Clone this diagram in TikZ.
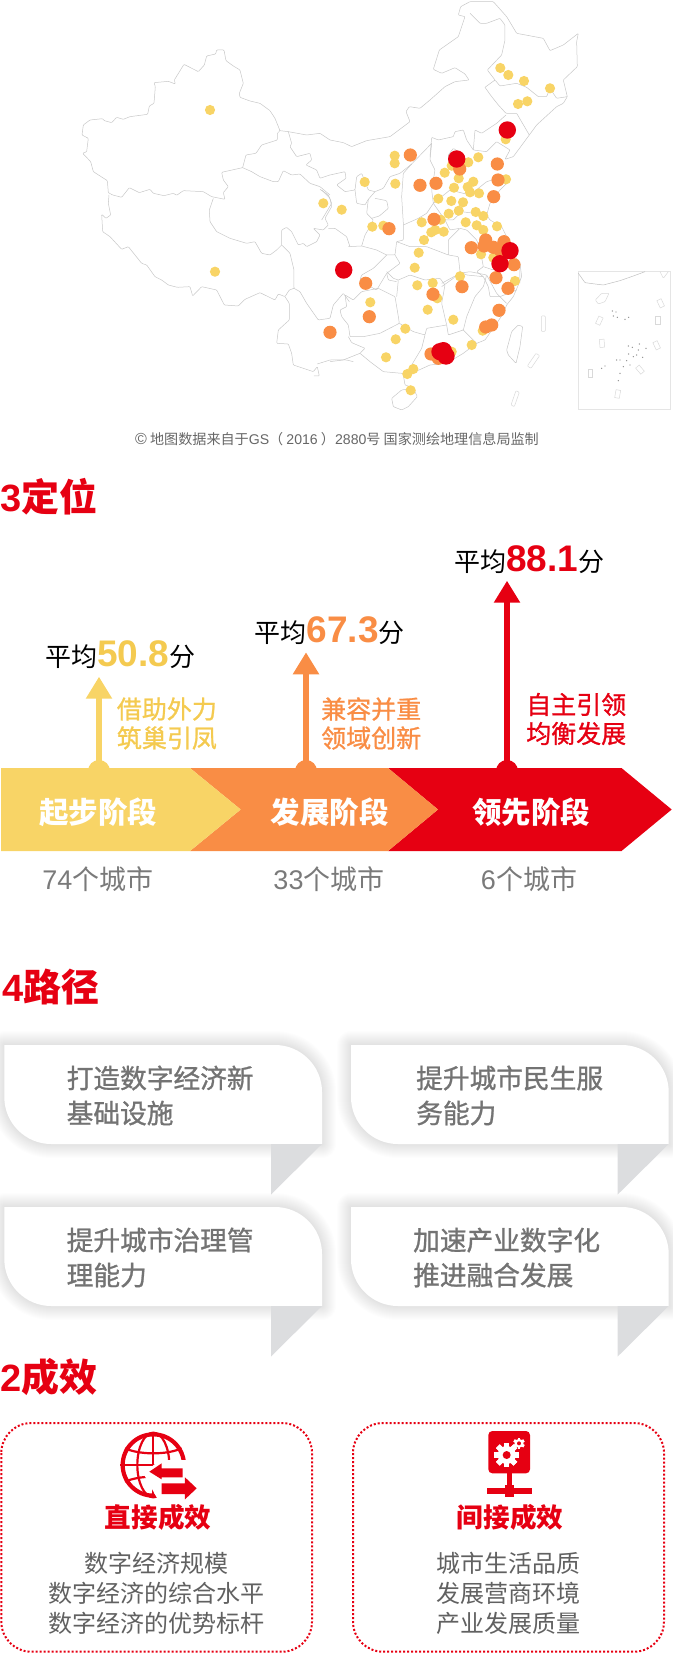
\documentclass[tikz,border=0pt]{standalone}
\usepackage{fontspec}
\setmainfont{Noto Sans CJK SC}
\newfontfamily\ltn{Liberation Sans}
\newfontfamily\medium[FakeBold=1]{Noto Sans CJK SC}
\newfontfamily\heavy{Noto Sans CJK SC Black}
\usetikzlibrary{arrows.meta, positioning}
\definecolor{stageyellow}{HTML}{F8D466}
\definecolor{textyellow}{HTML}{F4CA50}
\definecolor{stageorange}{HTML}{F98D45}
\definecolor{stagered}{HTML}{E60012}
\definecolor{foldgrey}{HTML}{DCDDDF}
\newcommand{\fs}[2]{\fontsize{#1}{#2}\selectfont}
\begin{document}
\begin{tikzpicture}[x=1pt,y=-1pt]

\tikzset{border/.style = {draw=black!22, line width=.5pt, line join=round, rounded corners=.8pt}}
\tikzset{heading/.style = {anchor=west, inner sep=0, text=stagered, font=\fs{38}{40}\heavy}}
\tikzset{score/.style = {anchor=west, inner sep=0, font=\fs{26}{30}}}
\tikzset{slogan/.style = {anchor=west, inner sep=0, align=left, font=\fs{25}{29}\medium}}
\tikzset{stagelabel/.style = {inner sep=0, text=white, font=\fs{29.5}{34}\bfseries}}
\tikzset{citycount/.style = {inner sep=0, text=black!52, font=\fs{27}{30}}}
\tikzset{pathtext/.style = {anchor=west, inner sep=0, align=left, text=black!55, font=\fs{26.7}{35}\medium}}
\tikzset{resulttitle/.style = {inner sep=0, text=stagered, font=\fs{26.6}{30}\bfseries}}
\tikzset{resultbody/.style = {inner sep=0, align=center, text=black!62, font=\fs{24}{30}}}
\tikzset{resultbox/.style = {draw=stagered, line width=2pt, dash pattern=on 2pt off 2pt, rounded corners=30pt}}
\tikzset{stagearrow/.style = {line width=5.5pt, -{Triangle[length=22pt,width=25pt]}}}

\useasboundingbox (0,0) rectangle (672,1653);

% map, west
\begin{scope}[shift={(70,40)},x=.3333pt,y=-.3333pt]
\draw[border] (630,272) -- (615,235) -- (600,212) -- (570,190) -- (540,183) -- (510,172) -- (508,160) -- (520,130) -- (510,90) -- (490,78) -- (468,62) -- (462,30) -- (440,30) -- (437,42) -- (410,48) -- (403,75) -- (385,95) -- (342,73) -- (313,120) -- (316,132) -- (295,124) -- (252,128) -- (256,140) -- (252,190) -- (238,198) -- (233,223) -- (180,230) -- (160,238) -- (140,232) -- (125,248) -- (103,242) -- (98,236) -- (60,240) -- (40,255) -- (36,285) -- (55,295) -- (50,335) -- (38,340) -- (62,365) -- (70,395) -- (112,422) -- (115,458) -- (128,465) -- (155,472) -- (178,443) -- (208,458) -- (240,448) -- (250,460) -- (282,467) -- (310,460) -- (320,466) -- (340,452) -- (400,455) -- (425,470) -- (465,478) -- (460,458) -- (475,440) -- (460,420) -- (455,397) -- (518,383) -- (528,345) -- (558,340) -- (575,315) -- (622,300) -- (622,280) -- cycle;
\draw[border] (518,383) -- (545,395) -- (570,410) -- (610,425) -- (625,425) -- (640,392) -- (665,405) -- (690,402) -- (720,430) -- (750,440) -- (780,465);
\draw[border] (630,272) -- (655,275) -- (710,285) -- (750,280) -- (780,300);
\draw[border] (655,275) -- (665,310) -- (660,320) -- (680,350) -- (720,340) -- (725,360) -- (708,375) -- (740,390) -- (750,415) -- (780,405);
\end{scope}
% map, tibet and yunnan
\begin{scope}[shift={(90,190)},x=.3333pt,y=-.3333pt]
\draw[border] (57,15) -- (55,40) -- (62,75) -- (48,85) -- (35,73) -- (38,125) -- (60,140) -- (95,178) -- (115,170) -- (155,220) -- (170,225) -- (195,260) -- (215,270) -- (235,285) -- (262,292) -- (300,290) -- (308,318) -- (335,290) -- (380,300) -- (403,345) -- (445,348) -- (465,328) -- (510,308) -- (555,330) -- (565,312) -- (585,320) -- (598,300) -- (612,295);
\draw[border] (370,25) -- (358,60) -- (360,95) -- (380,125) -- (420,145) -- (470,160) -- (495,155) -- (515,190) -- (540,195) -- (560,180) -- (575,165) -- (600,190) -- (612,240) -- (612,295) -- (630,305) -- (650,340) -- (685,390) -- (720,385) -- (730,345) -- (760,310) -- (778,335);
\draw[border] (695,0) -- (720,25) -- (725,50) -- (705,85) -- (715,105) -- (700,120) -- (670,115) -- (690,135) -- (680,155) -- (650,170) -- (640,160) -- (625,165) -- (605,125) -- (590,112) -- (575,120) -- (575,165);
\draw[border] (715,115) -- (735,115) -- (770,140) -- (780,170);
\draw[border] (585,320) -- (598,340) -- (598,390) -- (565,420) -- (560,460) -- (595,462) -- (605,490) -- (610,525) -- (640,535) -- (670,545) -- (682,530) -- (688,558) -- (672,558);
\draw[border] (682,522) -- (720,510) -- (770,510) -- (790,515);
\end{scope}
% map, north east
\begin{scope}[shift={(330,0)},x=.3333pt,y=-.3333pt]
\draw[border] (0,420) -- (40,428) -- (65,440) -- (110,422) -- (180,410) -- (240,365) -- (228,335) -- (238,320) -- (270,325) -- (300,300) -- (345,260) -- (375,245) -- (417,240) -- (405,222) -- (375,203) -- (335,220) -- (310,208) -- (328,150) -- (385,110) -- (405,50) -- (385,45) -- (392,20) -- (420,5) -- (490,5) -- (530,50) -- (560,100) -- (640,115) -- (660,152) -- (700,135) -- (745,100) -- (740,125) -- (742,200) -- (700,240) -- (712,290) -- (700,310) -- (680,320) -- (620,375) -- (598,405) -- (550,470) -- (525,478) -- (540,450) -- (500,425) -- (470,455) -- (430,450) -- (435,390) -- (455,400) -- (500,370) -- (528,345);
\draw[border] (420,40) -- (450,70) -- (470,70) -- (510,55) -- (525,75) -- (525,120) -- (515,165) -- (472,210) -- (495,240);
\draw[border] (465,262) -- (495,240) -- (510,258) -- (560,250) -- (590,262) -- (625,290) -- (650,290) -- (660,265) -- (680,295) -- (712,290);
\draw[border] (465,262) -- (485,290) -- (505,315) -- (528,340) -- (560,340) -- (598,405);
\draw[border] (300,470) -- (305,412) -- (325,420) -- (370,410) -- (375,395) -- (400,390) -- (410,420) -- (430,450);
\draw[border] (355,465) -- (370,445) -- (400,465) -- (410,500) -- (380,520) -- (355,490) -- cycle;
\end{scope}
% map, centre
\begin{scope}[shift={(320,140)},x=.3333pt,y=-.3333pt]
\draw[border] (335,10) -- (275,72) -- (240,100) -- (210,110) -- (190,145) -- (165,155) -- (145,150) -- (125,100) -- (110,110) -- (105,150) -- (75,155) -- (50,135) -- (78,115) -- (75,95) -- (30,105);
\draw[border] (105,150) -- (110,190) -- (135,195) -- (145,178);
\draw[border] (165,155) -- (145,178) -- (140,220) -- (160,240) -- (150,260) -- (135,285) -- (125,318);
\draw[border] (165,175) -- (200,182) -- (205,205) -- (178,228) -- (155,235);
\draw[border] (125,318) -- (170,330) -- (200,345) -- (225,345) -- (230,305) -- (250,300) -- (250,250) -- (245,170) -- (250,100) -- (275,72);
\draw[border] (250,255) -- (295,235) -- (320,220) -- (340,190);
\draw[border] (335,10) -- (330,60) -- (345,90) -- (335,150) -- (340,190) -- (390,150) -- (450,165) -- (500,125) -- (565,105) -- (565,125) -- (540,150) -- (510,190) -- (500,225) -- (510,240) -- (545,260) -- (560,290) -- (600,380) -- (600,430);
\draw[border] (340,190) -- (375,240) -- (400,240) -- (425,215) -- (500,225);
\draw[border] (375,240) -- (390,270) -- (420,265) -- (385,300) -- (385,345) -- (415,350) -- (420,395) -- (440,405) -- (490,410);
\draw[border] (420,265) -- (440,270) -- (470,300) -- (480,325) -- (510,320) -- (560,290);
\draw[border] (480,325) -- (490,380) -- (470,395) -- (490,410) -- (505,440) -- (510,470) -- (540,470) -- (590,450);
\draw[border] (490,380) -- (520,390) -- (530,350);
\draw[border] (230,305) -- (270,320) -- (320,320) -- (385,345);
\draw[border] (225,345) -- (240,370) -- (200,400) -- (205,420) -- (230,425);
\draw[border] (200,345) -- (160,385) -- (125,405) -- (120,420) -- (160,445) -- (170,450) -- (200,400);
\draw[border] (0,148) -- (25,165) -- (35,190) -- (5,240);
\draw[border] (85,320) -- (125,318);
\draw[border] (420,395) -- (400,415) -- (365,440);
\end{scope}
% map, south
\begin{scope}[shift={(330,190)},x=.3333pt,y=-.3333pt]
\draw[border] (570,220) -- (575,260) -- (565,285) -- (550,320) -- (530,345) -- (520,370) -- (500,400) -- (465,450) -- (440,460) -- (400,490) -- (350,520) -- (300,525) -- (245,550) -- (215,550) -- (160,545) -- (120,515) -- (90,490) -- (105,475) -- (65,458) -- (55,440);
\draw[border] (30,360) -- (50,350) -- (45,315) -- (70,330) -- (95,305) -- (145,295) -- (195,320) -- (205,380) -- (208,400) -- (150,430) -- (100,440) -- (60,440) -- (55,405) -- (35,380) -- cycle;
\draw[border] (205,270) -- (240,255) -- (285,270) -- (330,265) -- (345,285) -- (335,340) -- (350,405) -- (290,415) -- (285,435) -- (250,425) -- (208,400);
\draw[border] (335,280) -- (390,250) -- (420,245) -- (470,255) -- (460,290) -- (435,320) -- (410,380) -- (400,420) -- (355,435) -- (350,405);
\draw[border] (470,255) -- (500,310) -- (530,340);
\draw[border] (400,420) -- (440,460);
\draw[border] (170,245) -- (190,265) -- (205,270) -- (200,320);
\draw[border] (285,435) -- (275,475) -- (245,525) -- (245,550);
\draw[border] (0,515) -- (40,510) -- (90,490);
\draw[border] (220,555) -- (225,585) -- (240,590);
% islands
\draw[border] (185,625) -- (215,600) -- (250,595) -- (262,620) -- (235,650) -- (215,660) -- (190,650) -- cycle;
\draw[border] (530,480) -- (545,425) -- (565,405) -- (578,410) -- (570,470) -- (558,520) -- (535,495) -- cycle;
\draw[border, black!15] (634,378) rectangle (646,424);
\draw[border, black!15] (592,528) -- (618,490) -- (629,497) -- (603,535) -- cycle;
\draw[border, black!15] (543,645) -- (558,602) -- (568,607) -- (553,650) -- cycle;
\end{scope}
% inset
\begin{scope}[shift={(570,260)},x=.3333pt,y=-.3333pt]
\draw[black!10, line width=.5pt] (25,35) rectangle (300,448);
\draw[border, black!25] (25,40) -- (45,68) -- (75,72) -- (100,75) -- (150,62) -- (190,48) -- (225,35);
\draw[border, black!15] (270,35) -- (280,55) -- (295,35);
\draw[border, black!15] (76,120) -- (95,100) -- (117,100) -- (105,125) -- (85,132) -- cycle;
\foreach \x/\y/\a in {272/130/25,88/182/-25,263/181/0,96/250/5,260/256/25,61/340/0,210/329/40,143/402/-10}
  \draw[black!15, line width=.5pt, rotate around={\a:(\x,\y)}] (\x-7,\y-12) rectangle (\x+7,\y+12);
\foreach \x/\y in {127/153,138/156,130/168,142/172,165/178,176/172,175/258,187/262,208/252,228/265,176/282,200/285,218/292,150/300,170/302,140/300,105/318,95/325,160/320,150/340,145/362,180/315,205/270,190/290}
  \fill[black!45] (\x,\y) circle (.7pt);
\end{scope}
% cities
\foreach \x/\y in {500.3/68,508.3/75,524/81,550/88.3,527.3/101.3,518/104,505.7/139.3,478.3/157.3,468.3/162.3,394.7/155.7,394.7/163.3,364.7/182,395.3/183.7,444.7/172.7,458.7/178.3,454/187.7,473.3/181.7,467.7/187,470/192.3,479/193.3,506/179.3,451.7/165.7,438.3/198.7,451.3/201,463/202.3,448.7/213.7,458.7/210.7,475.7/212,483.3/216,465.7/222.3,476.7/225.3,483.3/230,497/226.3,440.7/219.7,421.7/222.3,431.3/232.3,435.3/230,443.7/231.7,424/240,418.7/252.7,414.7/267.7,417.3/285.3,432.7/283,460/276.3,437.3/298.3,427.7/309.7,453.3/319.7,405.3/328.7,395.7/339.3,386/357.3,413.3/369,407.3/374,410.7/390.3,471.7/345,482.7/330.7,515/281,481/254.3,493.3/257.7,451.7/351.7,372.3/226.7,383.3/225.7,341.7/209.7,323.3/203.3,215/271.7,210/110,370.3/302.3}
  \fill[stageyellow] (\x,\y) circle (5.1pt);
\foreach \x/\y in {410.3/155,420/185.3,436/183.3,459.7/169,497.3/164,498/180,493.7/196.7,434/219.3,389/228.7,471.3/247.7,485.7/240,484/246,493.3/247.3,500/250,504/241.7,514/264.7,496/277.7,462/286.7,508/288.3,433/294.3,365.7/283.3,369.3/316.7,499/310.3,491.7/325,485.7/327,431/354,438.3/358.3,330/332.3}
  \fill[stageorange] (\x,\y) circle (6.6pt);
\foreach \x/\y in {507.3/130,456.7/159,510/250.7,500/263.7,343.7/270,440/351.7,443.3/350.7,446/356}
  \fill[stagered] (\x,\y) circle (8.7pt);
\node[inner sep=0, text=black!60, font=\fs{14.1}{16}] (mapnote) at (337,439) {{\ltn\fs{16}{16}©} 地图数据来自于{\ltn GS}（ {\ltn 2016} ）{\ltn 2880}号 国家测绘地理信息局监制};

% headings
\node[heading] (positionhead) at (0,497) {{\ltn\bfseries 3}定位};
\node[heading] (pathhead) at (2,987) {{\ltn\bfseries 4}路径};
\node[heading] (effecthead) at (0,1377) {{\ltn\bfseries 2}成效};

% arrows and stages
\coordinate (basea) at (99,771);
\coordinate (baseb) at (306,771);
\coordinate (basec) at (507,771);
\fill[stageyellow] (basea) circle (11pt);
\fill[stageorange] (baseb) circle (11pt);
\fill[stagered] (basec) circle (11pt);
\coordinate (topa) at (99,676.7);
\coordinate (topb) at (306,652.3);
\coordinate (topc) at (507,580.7);
\draw[stagearrow, stageyellow] (basea) -- (topa);
\draw[stagearrow, stageorange] (baseb) -- (topb);
\draw[stagearrow, stagered] (basec) -- (topc);
\fill[stagered] (388,768) -- (621.5,768) -- (671.7,809.5) -- (621.5,851) -- (388,851) -- (438,809.5) -- cycle;
\fill[stageorange] (190,768) -- (388,768) -- (438,809.5) -- (388,851) -- (190,851) -- (240.7,809.5) -- cycle;
\fill[stageyellow] (1,768) -- (190,768) -- (240.7,809.5) -- (190,851) -- (1,851) -- cycle;
\node[stagelabel] (stagea) at (98,812) {起步阶段};
\node[stagelabel] (stageb) at (329.6,812) {发展阶段};
\node[stagelabel] (stagec) at (531,812) {领先阶段};
\node[citycount] (citya) at (98,879) {{\ltn 74}个城市};
\node[citycount] (cityb) at (329,879) {{\ltn 33}个城市};
\node[citycount] (cityc) at (529,879) {{\ltn 6}个城市};
\node[score] (scorea) at (45,655) {平均{\ltn\bfseries\fs{37}{37}\color{textyellow}50.8}分};
\node[score] (scoreb) at (254.5,631) {平均{\ltn\bfseries\fs{37}{37}\color{stageorange}67.3}分};
\node[score] (scorec) at (454,560) {平均{\ltn\bfseries\fs{37}{37}\color{stagered}88.1}分};
\node[slogan, text=textyellow] (slogana) at (116.7,723.5) {借助外力\\筑巢引凤};
\node[slogan, text=stageorange] (sloganb) at (321,723.5) {兼容并重\\领域创新};
\node[slogan, text=stagered] (sloganc) at (526,719) {自主引领\\均衡发展};

% callouts
\foreach \x/\y/\n/\t/\tx in {4.3/1045/patha/{打造数字经济新\\基础设施}/66.5,351/1045/pathb/{提升城市民生服\\务能力}/416,4.3/1207/pathc/{提升城市治理管\\理能力}/66.5,351/1207/pathd/{加速产业数字化\\推进融合发展}/413}{
  \foreach \w in {28,26,...,2}
    \draw[black, opacity=.008, line width=\w pt, line join=round]
      (\x,\y) -- (\x+270.7,\y) arc[start angle=90, end angle=0, radius=47pt] -- (\x+317.7,\y+99) -- (\x+47,\y+99) arc[start angle=270, end angle=180, radius=47pt] -- cycle;
  \fill[white] (\x,\y) -- (\x+270.7,\y) arc[start angle=90, end angle=0, radius=47pt] -- (\x+317.7,\y+99) -- (\x+47,\y+99) arc[start angle=270, end angle=180, radius=47pt] -- cycle;
  \fill[foldgrey] (\x+266.7,\y+99) -- (\x+317.7,\y+99) -- (\x+266.7,\y+149.5) -- cycle;
  \node[pathtext] (\n) at (\tx,\y+50.5) {\t};
}

% result boxes
\draw[resultbox] (1.3,1423) rectangle (312,1651.7);
\draw[resultbox] (353,1423) rectangle (664,1651.7);
\node[resulttitle] (titlea) at (158,1517) {直接成效};
\node[resulttitle] (titleb) at (510,1517) {间接成效};
\node[resultbody] (bodya) at (156,1593) {数字经济规模\\数字经济的综合水平\\数字经济的优势标杆};
\node[resultbody] (bodyb) at (508,1593) {城市生活品质\\发展营商环境\\产业发展质量};

% globe icon
\begin{scope}[shift={(100,1420)},x=.3333pt,y=-.3333pt]
\begin{scope}
\clip (160,135) circle (100);
\draw[stagered, line width=4.2pt] (160,135) circle (92);
\draw[stagered, line width=2.2pt] (160,135) ellipse (48 and 97);
\draw[stagered, line width=2.2pt] (160,35) -- (160,235);
\draw[stagered, line width=2.2pt] (60,135) -- (260,135);
\draw[stagered, line width=2.2pt] (75,85) .. controls (120,105) and (200,105) .. (245,85);
\draw[stagered, line width=2.2pt] (75,185) .. controls (120,165) and (200,165) .. (245,185);
\end{scope}
\fill[white] (180,120) -- (270,120) -- (300,250) -- (180,250) -- (130,160) -- cycle;
\fill[stagered] (148,155) -- (185,130) -- (185,145) -- (248,145) -- (248,172) -- (185,172) -- (185,178) -- cycle;
\fill[stagered] (185,190) -- (255,190) -- (255,172) -- (290,205) -- (255,238) -- (255,222) -- (185,222) -- cycle;
\end{scope}

% gear icon
\begin{scope}[shift={(470,1420)},x=.3333pt,y=-.3333pt]
\fill[stagered, rounded corners=4pt] (55,33) rectangle (180,160);
\fill[stagered] (110,160) rectangle (127,228);
\fill[stagered] (52,205) rectangle (187,222);
\fill[stagered] (105,195) rectangle (132,232);
\foreach \a in {0,45,...,315}
  \fill[white, rotate around={\a:(110,105)}] (102,68) rectangle (118,142);
\fill[white] (110,105) circle (9pt);
\fill[stagered] (110,105) circle (4pt);
\foreach \a in {0,60,...,300}
  \fill[white, rotate around={\a:(147,70)}] (143,53) rectangle (151,87);
\fill[white] (147,70) circle (4.5pt);
\fill[stagered] (147,70) circle (2pt);
\end{scope}

\end{tikzpicture}
\end{document}
